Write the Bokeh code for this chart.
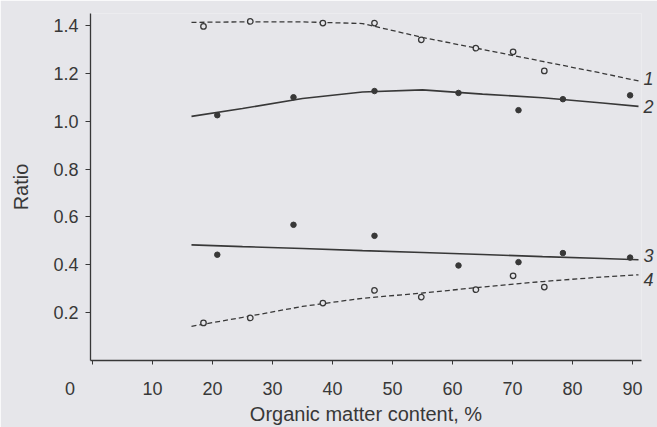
from bokeh.plotting import figure
from bokeh.models import Range1d, FixedTicker, LinearAxis
from bokeh.embed import file_html
from bokeh.resources import INLINE

# ---- data ----
x_open = [18.5, 26.3, 38.4, 47.0, 54.8, 63.9, 70.1, 75.3]       # samples (open circles)
x_filled = [20.8, 33.5, 47.0, 61.0, 71.0, 78.4, 89.6]           # samples (filled dots)

ratio1 = [1.396, 1.417, 1.41, 1.41, 1.34, 1.305, 1.29, 1.21]     # curve 1 points
ratio2 = [1.025, 1.10, 1.126, 1.118, 1.046, 1.092, 1.108]        # curve 2 points
ratio3 = [0.442, 0.567, 0.521, 0.397, 0.411, 0.449, 0.43]        # curve 3 points
ratio4 = [0.157, 0.178, 0.24, 0.293, 0.265, 0.296, 0.354, 0.307] # curve 4 points

fit_x = [16.5, 25, 35, 45, 55, 65, 75, 85, 91]
fit1 = [1.413, 1.415, 1.415, 1.408, 1.35, 1.30, 1.25, 1.20, 1.168]
fit2 = [1.02, 1.053, 1.095, 1.122, 1.131, 1.113, 1.098, 1.076, 1.062]
fit3 = [0.483, 0.476, 0.468, 0.459, 0.451, 0.443, 0.434, 0.426, 0.421]
fit4 = [0.143, 0.18, 0.226, 0.26, 0.282, 0.307, 0.33, 0.349, 0.358]

curve_names = ["1", "2", "3", "4"]
curve_name_y = [1.18, 1.0625, 0.44, 0.337]
x_ticks = [0, 10, 20, 30, 40, 50, 60, 70, 80, 90]
y_ticks = [0.2, 0.4, 0.6, 0.8, 1.0, 1.2, 1.4]

BG = "#e6e6ea"
INK = "#383838"
FONT = "Liberation Sans"

p = figure(width=657, height=427,
           x_range=Range1d(-0.33, 91.5), y_range=Range1d(0, 1.45),
           output_backend="svg", toolbar_location=None,
           min_border_left=90, min_border_right=16, min_border_top=13, min_border_bottom=66,
           background_fill_color=BG, border_fill_color=BG)
p.outline_line_color = None
p.grid.visible = False

# fitted curves
p.line(fit_x, fit1, line_color=INK, line_width=1.3, line_dash="5 3")
p.line(fit_x, fit2, line_color=INK, line_width=1.6)
p.line(fit_x, fit3, line_color=INK, line_width=1.6)
p.line(fit_x, fit4, line_color=INK, line_width=1.3, line_dash="5 3")

# points
p.scatter(x_open, ratio1, size=5.5, marker="circle", fill_color=BG, line_color=INK, line_width=1.3)
p.scatter(x_open, ratio4, size=5.5, marker="circle", fill_color=BG, line_color=INK, line_width=1.3)
p.scatter(x_filled, ratio2, size=5.5, marker="circle", fill_color=INK, line_color=INK)
p.scatter(x_filled, ratio3, size=5.5, marker="circle", fill_color=INK, line_color=INK)

# axes
for ax in (p.xaxis[0], p.yaxis[0]):
    ax.axis_line_color = INK
    ax.axis_line_width = 1.3
    ax.major_tick_line_color = INK
    ax.major_tick_in = 0
    ax.minor_tick_line_color = None
    ax.major_label_text_font = FONT
    ax.major_label_text_font_size = "18px"
    ax.major_label_text_color = INK
    ax.axis_label_text_font = FONT
    ax.axis_label_text_font_size = "20px"
    ax.axis_label_text_font_style = "normal"
    ax.axis_label_text_color = INK

p.xaxis.ticker = FixedTicker(ticks=x_ticks)
p.yaxis.ticker = FixedTicker(ticks=y_ticks)
p.yaxis.major_label_overrides = {t: f"{t:.1f}" for t in y_ticks}
# the origin "0" sits left of the axis corner in the reference
p.xaxis.major_label_overrides = {0: "0" + "\u00a0" * 9}
p.xaxis.major_tick_out = 4
p.yaxis.major_tick_out = 5
p.xaxis.major_label_standoff = 14
p.yaxis.major_label_standoff = 7
p.xaxis.axis_label = "Organic matter content, %"
p.yaxis.axis_label = "Ratio"
p.xaxis.axis_label_standoff = 1
p.yaxis.axis_label_standoff = 18

# curve numbers at the right end, as an unlined right axis
names_axis = LinearAxis(ticker=FixedTicker(ticks=curve_name_y),
                        major_label_overrides={y: n for y, n in zip(curve_name_y, curve_names)},
                        axis_line_color=None, major_tick_line_color=None,
                        major_tick_out=0, major_tick_in=0,
                        minor_tick_line_color=None, major_label_standoff=2,
                        major_label_text_font=FONT, major_label_text_font_size="18px",
                        major_label_text_font_style="italic", major_label_text_color=INK)
p.add_layout(names_axis, "right")

open("out.html", "w").write(file_html(p, INLINE))
